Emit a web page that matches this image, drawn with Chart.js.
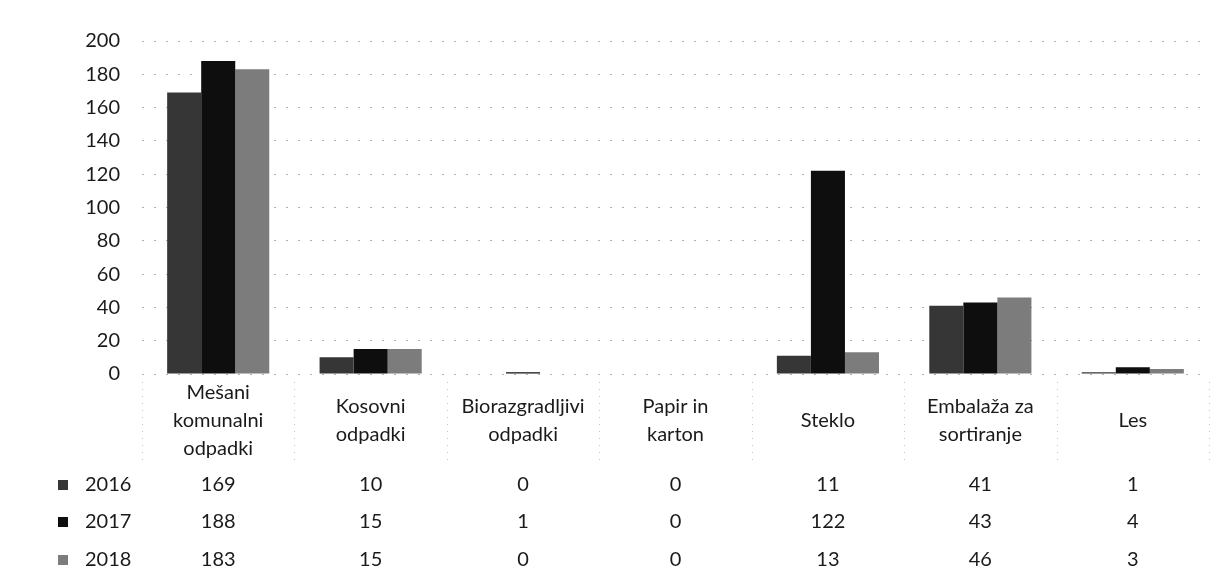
<!DOCTYPE html>
<html>
<head>
<meta charset="utf-8">
<script src="https://cdn.jsdelivr.net/npm/chart.js@4"></script>
<style>
    html, body { margin: 0; padding: 0; background: #fff; }
    #wrap { width: 1230px; height: 572px; position: relative; }
</style>
</head>
<body>
<div id="wrap"><canvas id="wasteChart"></canvas></div>
<script>
// Categories (multi-line labels as shown under the axis)
const categories = [
    ['Mešani', 'komunalni', 'odpadki'],
    ['Kosovni', 'odpadki'],
    ['Biorazgradljivi', 'odpadki'],
    ['Papir in', 'karton'],
    ['Steklo'],
    ['Embalaža za', 'sortiranje'],
    ['Les']
];

// Series
const years = ['2016', '2017', '2018'];
const values2016 = [169, 10, 0, 0, 11, 41, 1];
const values2017 = [188, 15, 1, 0, 122, 43, 4];
const values2018 = [183, 15, 0, 0, 13, 46, 3];
const seriesColors = ['#363636', '#0e0e0e', '#7c7c7c'];

// Y axis ticks
const yTicks = [0, 20, 40, 60, 80, 100, 120, 140, 160, 180, 200];

const FONT = 'Lato, "Open Sans", sans-serif';
const TEXT_COLOR = '#1a1a1a';

// Data table under the chart
const dataTablePlugin = {
    id: 'dataTable',
    afterDraw(chart) {
        const { ctx, scales: { x }, chartArea } = chart;
        const rowY = [485, 522, 560];
        ctx.save();

        // faint dotted column separators in the label area
        ctx.strokeStyle = '#c4c4c4';
        ctx.lineWidth = 1;
        ctx.setLineDash([1, 6]);
        for (let i = 0; i <= categories.length; i++) {
            const xp = Math.round(chartArea.left + i * (chartArea.right - chartArea.left) / categories.length) + 0.5;
            ctx.beginPath();
            ctx.moveTo(xp, chartArea.bottom + 8);
            ctx.lineTo(xp, 466);
            ctx.stroke();
        }
        ctx.setLineDash([]);

        ctx.font = '20px ' + FONT;
        ctx.fillStyle = TEXT_COLOR;
        ctx.textBaseline = 'middle';

        chart.data.datasets.forEach((ds, r) => {
            const y = rowY[r];
            // legend key
            ctx.fillStyle = ds.backgroundColor;
            ctx.fillRect(58, y - 5, 10, 10);
            ctx.fillStyle = TEXT_COLOR;
            ctx.textAlign = 'left';
            ctx.fillText(ds.label, 85, y);
            ctx.textAlign = 'center';
            ds.data.forEach((v, i) => {
                ctx.fillText(String(v), x.getPixelForValue(i), y);
            });
        });
        ctx.restore();
    }
};

function initWasteChart() {
    const canvas = document.getElementById('wasteChart');
    const ctx = canvas.getContext('2d');

    return new Chart(ctx, {
        type: 'bar',
        data: {
            labels: categories,
            datasets: [
                { label: years[0], data: values2016, backgroundColor: seriesColors[0] },
                { label: years[1], data: values2017, backgroundColor: seriesColors[1] },
                { label: years[2], data: values2018, backgroundColor: seriesColors[2] }
            ]
        },
        plugins: [dataTablePlugin],
        options: {
            responsive: true,
            maintainAspectRatio: false,
            animation: false,
            layout: { padding: { top: 41, right: 21, left: 0, bottom: 0 } },
            datasets: {
                bar: { categoryPercentage: 0.67, barPercentage: 1.0 }
            },
            plugins: {
                legend: { display: false },
                tooltip: { enabled: false }
            },
            scales: {
                x: {
                    grid: { display: false },
                    border: { display: false },
                    afterFit: (s) => { s.height = 198; },
                    ticks: {
                        autoSkip: false,
                        maxRotation: 0,
                        padding: 11,
                        crossAlign: 'center',
                        color: TEXT_COLOR,
                        font: { family: FONT, size: 20, lineHeight: 1.4 }
                    }
                },
                y: {
                    min: 0,
                    max: 200,
                    afterFit: (s) => { s.width = 142; },
                    afterBuildTicks: (s) => { s.ticks = yTicks.map(v => ({ value: v })); },
                    // in v4 the dash of the grid lines is set on border
                    border: { display: false, dash: [2, 10] },
                    grid: {
                        drawTicks: false,
                        color: '#b0b0b0',
                        lineWidth: 1
                    },
                    ticks: {
                        padding: 22,
                        color: TEXT_COLOR,
                        font: { family: FONT, size: 20 }
                    }
                }
            }
        }
    });
}

document.addEventListener('DOMContentLoaded', () => {
    initWasteChart();
});
</script>
</body>
</html>
